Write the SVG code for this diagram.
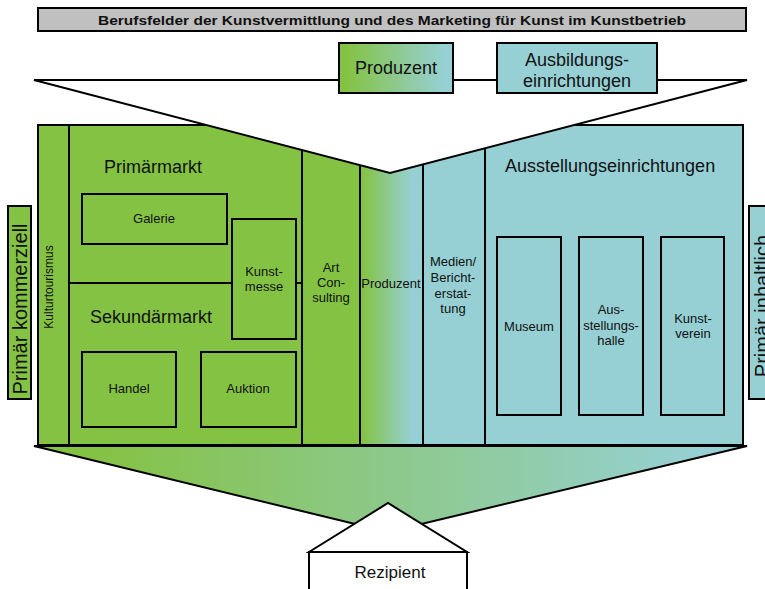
<svg xmlns="http://www.w3.org/2000/svg" width="765" height="589" viewBox="0 0 765 589">
<defs>
<linearGradient id="gBody" gradientUnits="userSpaceOnUse" x1="362" y1="0" x2="412" y2="0">
<stop offset="0" stop-color="#84c243"/><stop offset="1" stop-color="#96d0d4"/>
</linearGradient>
<linearGradient id="gProd" gradientUnits="userSpaceOnUse" x1="345" y1="0" x2="445" y2="0">
<stop offset="0" stop-color="#84c243"/><stop offset="1" stop-color="#96d0d4"/>
</linearGradient>
<linearGradient id="gLow" gradientUnits="userSpaceOnUse" x1="90" y1="0" x2="700" y2="0">
<stop offset="0" stop-color="#84c243"/><stop offset="1" stop-color="#96d0d4"/>
</linearGradient>
<style>
.ln{stroke:#000;stroke-width:2;fill:none}
.bx{stroke:#000;stroke-width:2}
.g{fill:#84c243}
.t{fill:#96d0d4}
text{font-family:"Liberation Sans",Arial,sans-serif;fill:#111}
.big{font-size:18px}
.sm{font-size:13px}
.mid{text-anchor:middle}
</style>
</defs>

<g id="title">
<rect x="38" y="8" width="708" height="23" fill="#c0c0c0" class="bx"/>
<text x="392" y="24.5" class="mid" font-size="13.5" font-weight="bold" textLength="588" lengthAdjust="spacingAndGlyphs">Berufsfelder der Kunstvermittlung und des Marketing für Kunst im Kunstbetrieb</text>
</g>

<g id="body">
<rect x="38" y="125" width="705" height="320" fill="url(#gBody)" class="bx"/>
</g>

<g id="connectors">
<line x1="69" y1="125" x2="69" y2="445" class="ln"/>
<line x1="302" y1="125" x2="302" y2="445" class="ln"/>
<line x1="360" y1="125" x2="360" y2="445" class="ln"/>
<line x1="423" y1="125" x2="423" y2="445" class="ln"/>
<line x1="485" y1="125" x2="485" y2="445" class="ln"/>
<line x1="69" y1="283" x2="302" y2="283" class="ln"/>
<polygon points="34,80 747,80 390,173" fill="#fff" class="bx"/>
<polygon points="34,446 747,446 388,532" fill="url(#gLow)" class="bx"/>
</g>

<g id="produzent-top">
<rect x="339" y="43" width="114" height="50" fill="url(#gProd)" class="bx"/>
<text x="396" y="74" class="mid" font-size="18">Produzent</text>
</g>
<g id="ausbildung">
<rect x="497" y="43" width="160" height="50" class="bx t"/>
<text x="577" y="66" class="mid" font-size="18">Ausbildungs-</text>
<text x="577" y="87" class="mid" font-size="18">einrichtungen</text>
</g>

<g id="primaer-kommerziell">
<rect x="8" y="206" width="23" height="193" class="bx g"/>
<text transform="translate(27,309) rotate(-90)" class="mid" font-size="20">Primär kommerziell</text>
</g>
<g id="primaer-inhaltlich">
<rect x="749" y="206" width="24" height="193" class="bx t"/>
<text transform="translate(769,306) rotate(-90)" class="mid" font-size="20">Primär inhaltlich</text>
</g>

<g id="kulturtourismus">
<text transform="translate(53,287) rotate(-90)" class="mid" font-size="12">Kulturtourismus</text>
</g>

<g id="primaermarkt">
<text x="104" y="173" class="big">Primärmarkt</text>
</g>
<g id="galerie">
<rect x="82" y="194" width="145" height="50" class="bx g"/>
<text x="154" y="223" class="mid sm">Galerie</text>
</g>
<g id="kunstmesse">
<rect x="232" y="219" width="64" height="120" class="bx g"/>
<text x="264" y="276" class="mid sm">Kunst-</text>
<text x="264" y="291" class="mid sm">messe</text>
</g>
<g id="sekundaermarkt">
<text x="90" y="323" class="big">Sekundärmarkt</text>
</g>
<g id="handel">
<rect x="82" y="352" width="94" height="75" class="bx g"/>
<text x="129" y="393" class="mid sm">Handel</text>
</g>
<g id="auktion">
<rect x="201" y="352" width="95" height="75" class="bx g"/>
<text x="248" y="393" class="mid sm">Auktion</text>
</g>

<g id="art-consulting">
<text x="331" y="272" class="mid sm">Art</text>
<text x="331" y="287" class="mid sm">Con-</text>
<text x="331" y="302" class="mid sm">sulting</text>
</g>
<g id="produzent-col">
<text x="391" y="288" class="mid sm">Produzent</text>
</g>
<g id="medien">
<text x="453" y="266" class="mid sm">Medien/</text>
<text x="453" y="282" class="mid sm">Bericht-</text>
<text x="453" y="298" class="mid sm">erstat-</text>
<text x="453" y="313" class="mid sm">tung</text>
</g>

<g id="ausstellungseinrichtungen">
<text x="505" y="172" class="big">Ausstellungseinrichtungen</text>
</g>
<g id="museum">
<rect x="497" y="237" width="64" height="178" class="bx t"/>
<text x="529" y="331" class="mid sm">Museum</text>
</g>
<g id="ausstellungshalle">
<rect x="579" y="237" width="64" height="178" class="bx t"/>
<text x="611" y="314" class="mid sm">Aus-</text>
<text x="611" y="330" class="mid sm">stellungs-</text>
<text x="611" y="345" class="mid sm">halle</text>
</g>
<g id="kunstverein">
<rect x="661" y="237" width="63" height="178" class="bx t"/>
<text x="693" y="323" class="mid sm">Kunst-</text>
<text x="693" y="338" class="mid sm">verein</text>
</g>

<g id="rezipient">
<polygon points="309,552 388,503 467,552" fill="#fff" class="bx"/>
<rect x="309" y="552" width="158" height="45" fill="#fff" class="bx"/>
<text x="390" y="578" class="mid" font-size="17">Rezipient</text>
</g>
</svg>
